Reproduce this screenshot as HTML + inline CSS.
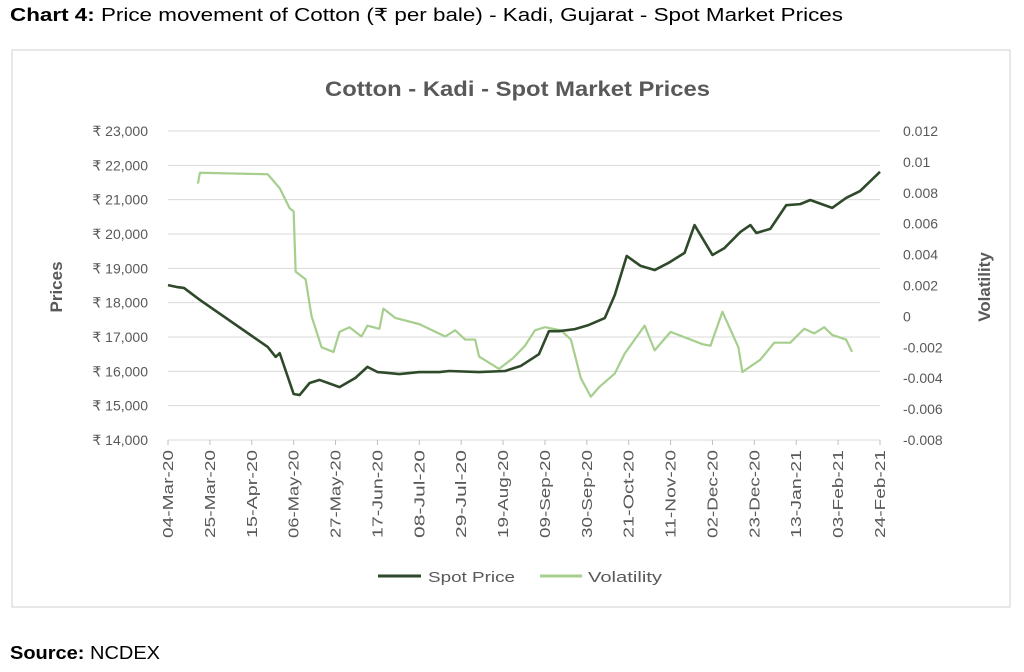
<!DOCTYPE html>
<html><head><meta charset="utf-8"><style>
body{margin:0;background:#fff;width:1024px;height:667px;overflow:hidden;font-family:"Liberation Sans",sans-serif}
</style></head><body>
<svg width="1024" height="667" xmlns="http://www.w3.org/2000/svg" font-family="Liberation Sans, sans-serif">
<text x="10" y="21" font-size="18" fill="#000" textLength="833" lengthAdjust="spacingAndGlyphs"><tspan font-weight="bold">Chart 4:</tspan> Price movement of Cotton (₹ per bale) - Kadi, Gujarat - Spot Market Prices</text>
<rect x="12" y="50" width="998" height="557" fill="#fff" stroke="#d0d0d0"/>
<text x="325" y="96" font-size="21" font-weight="bold" fill="#595959" textLength="385" lengthAdjust="spacingAndGlyphs">Cotton - Kadi - Spot Market Prices</text>
<g id="grid"></g><g id="ax"></g><g id="series"></g>
<text transform="translate(62,287) rotate(-90)" text-anchor="middle" font-size="17" font-weight="bold" fill="#595959">Prices</text>
<text transform="translate(990,287) rotate(-90)" text-anchor="middle" font-size="17" font-weight="bold" fill="#595959">Volatility</text>
<g>
<line x1="378" y1="576" x2="421" y2="576" stroke="#2f4a2a" stroke-width="3"/>
<text x="428" y="582" font-size="15" fill="#595959" textLength="87" lengthAdjust="spacingAndGlyphs">Spot Price</text>
<line x1="540" y1="576" x2="582" y2="576" stroke="#a6cf8e" stroke-width="3"/>
<text x="588" y="582" font-size="15" fill="#595959" textLength="74" lengthAdjust="spacingAndGlyphs">Volatility</text>
</g>
<text x="10" y="659" font-size="18" fill="#000" textLength="150" lengthAdjust="spacingAndGlyphs"><tspan font-weight="bold">Source:</tspan> NCDEX</text>
</svg>
<script>
const priceDays=[0,5,8,16,50,54,56,63,66,71,76,86,94,100,105,116,126,136,141,156,169,177,186,191,196,204,211,219,224,230,237,244,251,259,264,273,279,287,292,295,302,310,317,322,333,340,347,357];
const priceVals=[18510,18450,18430,18080,16710,16420,16530,15340,15310,15660,15750,15540,15810,16130,15980,15920,15980,15980,16010,15980,16010,16160,16500,17170,17170,17230,17350,17550,18220,19360,19070,18950,19160,19450,20260,19390,19590,20060,20260,20030,20150,20840,20870,20990,20760,21050,21250,21810];
const volDays=[15,16,50,56,61,63,64,69,72,77,83,86,91,97,100,106,108,114,126,139,144,149,154,156,166,173,179,184,189,197,202,207,212,216,224,229,239,244,252,262,268,272,278,286,288,297,304,312,319,324,329,333,340,343];
const volVals=[0.0086,0.0093,0.0092,0.0083,0.0070,0.0068,0.0029,0.0024,0.0000,-0.0020,-0.0023,-0.0010,-0.0007,-0.0013,-0.0006,-0.0008,0.0005,-0.0001,-0.0005,-0.0013,-0.0009,-0.0015,-0.0015,-0.0026,-0.0034,-0.0027,-0.0019,-0.0009,-0.0007,-0.0009,-0.0015,-0.0040,-0.0052,-0.0046,-0.0037,-0.0024,-0.0006,-0.0022,-0.0010,-0.0015,-0.0018,-0.0019,0.0003,-0.0020,-0.0036,-0.0028,-0.0017,-0.0017,-0.0008,-0.0011,-0.0007,-0.0012,-0.0015,-0.0023];
const leftTicks=[14000,15000,16000,17000,18000,19000,20000,21000,22000,23000];
const rightTicks=[-0.008,-0.006,-0.004,-0.002,0,0.002,0.004,0.006,0.008,0.01,0.012];
const xLabels=["04-Mar-20","25-Mar-20","15-Apr-20","06-May-20","27-May-20","17-Jun-20","08-Jul-20","29-Jul-20","19-Aug-20","09-Sep-20","30-Sep-20","21-Oct-20","11-Nov-20","02-Dec-20","23-Dec-20","13-Jan-21","03-Feb-21","24-Feb-21"];
const NS="http://www.w3.org/2000/svg";
const X0=168,X1=880,YT=131,YB=440;
const xs=d=>X0+d*(X1-X0)/357;
const yl=v=>YB-(v-14000)*(YB-YT)/9000;
const yr=v=>YB-(v+0.008)*(YB-YT)/0.02;
function mk(t,a,p){const e=document.createElementNS(NS,t);for(const k in a)e.setAttribute(k,a[k]);document.getElementById(p).appendChild(e);return e;}
leftTicks.forEach(v=>{
 const g=mk('line',{x1:X0,x2:X1,y1:yl(v),y2:yl(v),stroke:'#d9d9d9','stroke-width':1},'grid');
 
 
 const t=mk('text',{x:148,y:yl(v)+5,'text-anchor':'end','font-size':14,fill:'#595959'},'ax');
 t.textContent='₹ '+v.toLocaleString('en-US');
 
 
});
rightTicks.forEach(v=>{
 const t=mk('text',{x:903,y:yr(v)+5,'font-size':14,fill:'#595959'},'ax');
 t.textContent=v===0?'0':String(+v.toFixed(3));
 
 
});
xLabels.forEach((s,i)=>{
 const x=xs(i*21);
 const t=mk('text',{transform:`translate(${x+5},450) rotate(-90)`,'text-anchor':'end','font-size':15,fill:'#595959',textLength:88,lengthAdjust:'spacingAndGlyphs'},'ax');
 t.textContent=s;
 
 
 const k=mk('line',{x1:x,x2:x,y1:YB,y2:YB+5,stroke:'#bfbfbf'},'ax');
 
 
});
const pv=mk('polyline',{points:volDays.map((d,i)=>xs(d)+','+yr(volVals[i])).join(' '),fill:'none',stroke:'#a6cf8e','stroke-width':2.2,'stroke-linejoin':'round'},'series');


const pp=mk('polyline',{points:priceDays.map((d,i)=>xs(d)+','+yl(priceVals[i])).join(' '),fill:'none',stroke:'#2f4a2a','stroke-width':2.6,'stroke-linejoin':'round'},'series');


</script>
</body></html>
